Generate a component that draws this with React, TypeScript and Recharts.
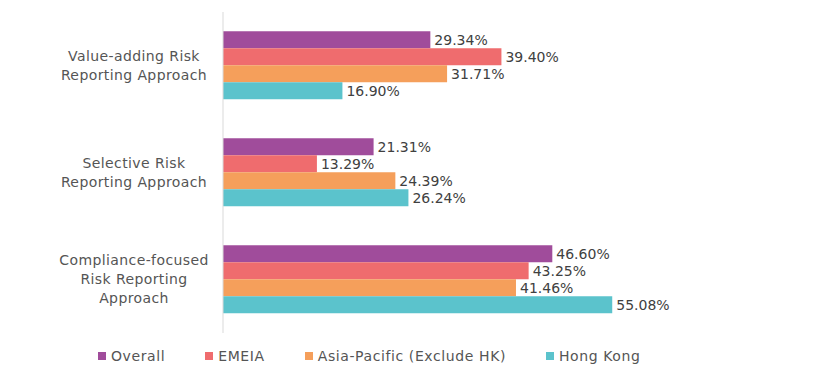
import { BarChart, Bar, XAxis, YAxis, Legend, LabelList } from 'recharts'

const categories = [
  'Value-adding Risk\nReporting Approach',
  'Selective Risk\nReporting Approach',
  'Compliance-focused\nRisk Reporting\nApproach',
]
const overall = [29.34, 21.31, 46.6]
const emeia = [39.4, 13.29, 43.25]
const asiaPacific = [31.71, 24.39, 41.46]
const hongKong = [16.9, 26.24, 55.08]

const series = [
  { key: 'overall', name: 'Overall', color: '#A04C9B' },
  { key: 'emeia', name: 'EMEIA', color: '#EF6C6E' },
  { key: 'apac', name: 'Asia-Pacific (Exclude HK)', color: '#F59F5B' },
  { key: 'hk', name: 'Hong Kong', color: '#5BC3CC' },
]

const data = categories.map((c, i) => ({
  category: c,
  overall: overall[i],
  emeia: emeia[i],
  apac: asiaPacific[i],
  hk: hongKong[i],
}))

const FONT = '"DejaVu Sans", sans-serif'
const TEXT = '#555555'

// labels are centred in the column left of the axis
function CategoryTick({ x, y, payload }: any) {
  const lines = String(payload.value).split('\n')
  const lh = 19
  const start = -((lines.length - 1) * lh) / 2
  const cx = x - 68
  return (
    <text
      x={cx}
      y={y}
      textAnchor="middle"
      fill={TEXT}
      fontSize={14}
      fontFamily={FONT}
      letterSpacing={0.4}
    >
      {lines.map((l, i) => (
        <tspan key={i} x={cx} y={y + start + i * lh} dy="0.35em">
          {l}
        </tspan>
      ))}
    </text>
  )
}

function LegendContent() {
  return (
    <div style={{ display: 'flex', fontFamily: FONT, fontSize: 14, color: TEXT, letterSpacing: 0.6 }}>
      {series.map(s => (
        <div key={s.key} style={{ display: 'flex', alignItems: 'center', marginRight: 40 }}>
          <span style={{ width: 8, height: 8, background: s.color, marginRight: 5, display: 'inline-block' }} />
          <span>{s.name}</span>
        </div>
      ))}
    </div>
  )
}

export default function App() {
  return (
    <BarChart
      width={800}
      height={371}
      data={data}
      layout="vertical"
      margin={{ top: 4, right: 161, left: 0, bottom: 46 }}
      barCategoryGap="18%"
      barGap={0}
    >
      <XAxis type="number" domain={[0, 60]} hide />
      <YAxis
        type="category"
        dataKey="category"
        width={215}
        axisLine={{ stroke: '#D9D9D9' }}
        tickLine={false}
        tickMargin={15}
        tick={<CategoryTick />}
      />
      <Legend
        verticalAlign="middle"
        align="center"
        layout="horizontal"
        content={<LegendContent />}
        wrapperStyle={{ top: 340, left: 90, width: 'auto' }}
      />
      {series.map(s => (
        <Bar key={s.key} dataKey={s.key} name={s.name} fill={s.color} isAnimationActive={false}>
          <LabelList
            dataKey={s.key}
            position="right"
            offset={4}
            formatter={(v: any) => `${Number(v).toFixed(2)}%`}
            style={{ fill: '#404040', fontSize: 14, fontFamily: FONT }}
          />
        </Bar>
      ))}
    </BarChart>
  )
}
